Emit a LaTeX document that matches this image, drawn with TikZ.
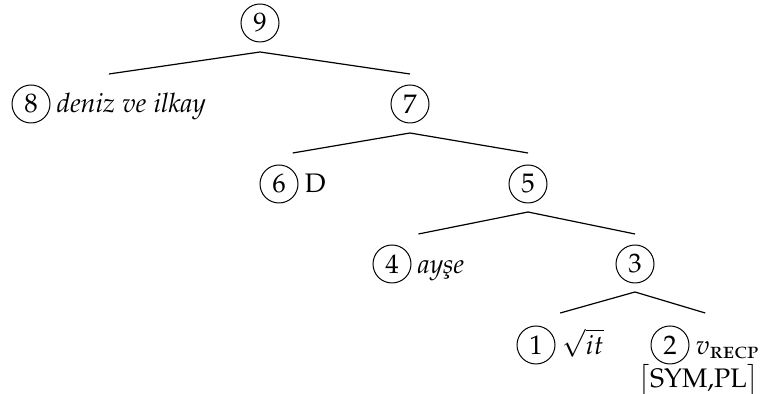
\documentclass[tikz,border=0pt]{standalone}
\usepackage[T1]{fontenc}
\usepackage[sc]{mathpazo}
\usepackage{amsmath}
\usetikzlibrary{calc}
\newcommand{\recpsub}{\mbox{\fontsize{11.5}{13}\selectfont\textsc{recp}}}
\begin{document}
\begin{tikzpicture}[x=0.5pt,y=-0.5pt,
  every node/.style={font=\fontsize{13.4}{16}\selectfont},
  num/.style={circle,draw,line width=0.5pt,minimum size=19pt,inner sep=0pt},
  lab/.style={anchor=base west,inner sep=0pt,xshift=3pt},
  branch/.style={line width=0.6pt}]
\useasboundingbox (0,0) rectangle (762,394);
% nodes
\node[num] (n9) at (260,23) {9};
\node[num] (n8) at (31,104) {8};
\node[lab] (t8) at (n8.base -| n8.east) {\textit{deniz ve ilkay}};
\node[num] (n7) at (410,104) {7};
\node[num] (n6) at (279,184) {6};
\node[lab] (t6) at (n6.base -| n6.east) {D};
\node[num] (n5) at (528,184) {5};
\node[num] (n4) at (392,264) {4};
\node[lab] (t4) at (n4.base -| n4.east) {\textit{ay\c{s}e}};
\node[num] (n3) at (635,264) {3};
\node[num] (n1) at (536,345) {1};
\node[lab] (t1) at (n1.base -| n1.east) {$\sqrt{it}$};
\node[num] (n2) at (670,345) {2};
\node[lab] (t2) at (n2.base -| n2.east) {$v_{\recpsub}$};
\node[anchor=base east,inner sep=0pt] (t2b) at ([yshift=-16.5pt,xshift=-0.5pt]t2.base east) {$\big[$SYM,PL$\big]$};
% group centres
\coordinate (m8) at ($(n8.west)!0.5!(t8.east)$);
\coordinate (m6) at ($(n6.west)!0.5!(t6.east)$);
\coordinate (m4) at ($(n4.west)!0.5!(t4.east)$);
\coordinate (m1) at ($(n1.west)!0.5!(t1.east)$);
\coordinate (m2) at ($(n2.west)!0.5!(t2.east)$);
% branch points
\coordinate (a9) at ($(n9)+(0,29)$);
\coordinate (l9) at ($(m8 |- n8)+(0,-30)$);
\coordinate (r9) at ($(n7)+(0,-30)$);
\coordinate (a7) at ($(n7)+(0,29)$);
\coordinate (l7) at ($(m6 |- n6)+(0,-31)$);
\coordinate (r7) at ($(n5)+(0,-31)$);
\coordinate (a5) at ($(n5)+(0,28)$);
\coordinate (l5) at ($(m4 |- n4)+(0,-30)$);
\coordinate (r5) at ($(n3)+(0,-30)$);
\coordinate (a3) at ($(n3)+(0,28)$);
\coordinate (l3) at ($(m1 |- n1)+(0,-32)$);
\coordinate (r3) at ($(m2 |- n2)+(0,-32)$);
% branches
\draw[branch] (l9) -- (a9) -- (r9);
\draw[branch] (l7) -- (a7) -- (r7);
\draw[branch] (l5) -- (a5) -- (r5);
\draw[branch] (l3) -- (a3) -- (r3);
\end{tikzpicture}
\end{document}
